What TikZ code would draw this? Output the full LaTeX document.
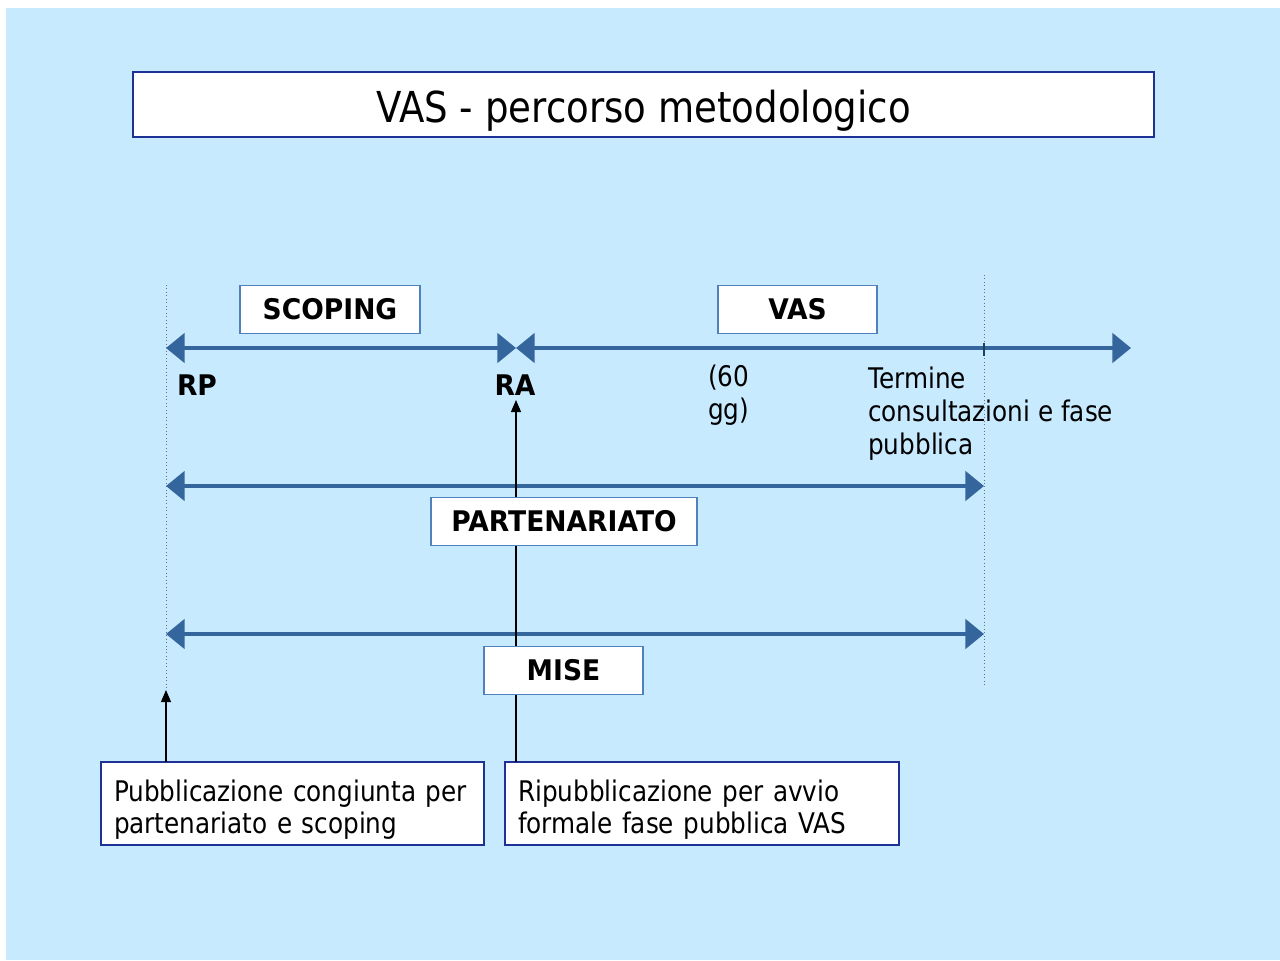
\documentclass[tikz,border=0pt]{standalone}
\usepackage{fontspec}
\setmainfont[FakeStretch=0.87]{DejaVu Sans}
\newfontfamily\lblfont[FakeStretch=0.935]{DejaVu Sans}
\usetikzlibrary{arrows.meta}
\definecolor{bgblue}{RGB}{200,234,255}
\definecolor{arrowblue}{RGB}{52,101,156}
\definecolor{lblborder}{RGB}{79,129,189}
\definecolor{navy}{RGB}{30,50,150}
\definecolor{dotgray}{RGB}{110,110,130}
\tikzset{
  bigarrow/.style={draw=arrowblue, line width=3pt, {Triangle[length=14pt,width=22pt]}-{Triangle[length=14pt,width=22pt]}},
  lblbox/.style={draw=lblborder, line width=0.9pt, fill=white, inner sep=0pt, minimum height=36pt, font=\fontsize{21.3}{24}\lblfont\bfseries},
  navybox/.style={draw=navy, line width=1.1pt, fill=white, inner sep=0pt},
  txtbox/.style={navybox, align=left, inner xsep=9.75pt, inner ysep=0pt, minimum height=62.25pt, font=\fontsize{21.3}{24}\selectfont},
  plain/.style={inner sep=0pt, align=left, font=\fontsize{21.3}{24.75}\selectfont},
  boldlbl/.style={inner sep=0pt, font=\fontsize{21.3}{24}\lblfont\bfseries},
  guide/.style={draw=dotgray, line width=0.6pt, dotted},
  thinarrow/.style={draw=black, line width=0.8pt, -{Triangle[length=9pt,width=7.5pt]}}
}
\begin{document}
\begin{tikzpicture}[x=0.75pt,y=-0.75pt]
\useasboundingbox (0,0) rectangle (1280,960);
\fill[bgblue] (6,8) rectangle (1280,960);
% title
\node[navybox, minimum width=765.75pt, minimum height=48.75pt, font=\fontsize{32}{36}\selectfont] (title) at (643.5,104.5) {\raisebox{-13.5pt}[0pt][0pt]{VAS - percorso metodologico}};
% guides
\coordinate (gl1) at (166,285);
\coordinate (gl2) at (166,690);
\coordinate (gr1) at (984,275);
\coordinate (gr2) at (984,686);
\draw[guide] (gl1) -- (gl2);
\draw[guide] (gr1) -- (gr2);
% timeline arrows
\coordinate (rp) at (166,348);
\coordinate (ra) at (516,348);
\coordinate (vend) at (1131,348);
\draw[bigarrow] (rp) -- (ra);
\draw[bigarrow] (ra) -- (vend);
\draw[draw=arrowblue!60!black, line width=1pt] (984,343) -- (984,356);
\coordinate (p1) at (166,486);
\coordinate (p2) at (984,486);
\draw[bigarrow] (p1) -- (p2);
\coordinate (m1) at (166,634);
\coordinate (m2) at (984,634);
\draw[bigarrow] (m1) -- (m2);
% labels
\node[boldlbl] (rplbl) at (197,385) {RP};
\node[boldlbl] (ralbl) at (515,385) {RA};
\node[plain, anchor=base west] (gg) at (708,419) {(60\\gg)};
\node[plain, anchor=base west] (term) at (868,454) {Termine\\consultazioni e fase\\pubblica};
% bottom boxes
\node[txtbox, minimum width=287.25pt, text width=267.75pt] (box1) at (292.5,803.5) {\rule{0pt}{25pt}Pubblicazione congiunta per\\partenariato e scoping};
\node[txtbox, minimum width=295.5pt, text width=276pt] (box2) at (702,803.5) {\rule{0pt}{25pt}Ripubblicazione per avvio\\formale fase pubblica VAS};
% connectors
\coordinate (b2a) at (516,762);
\coordinate (rab) at (516,400);
\draw[thinarrow] (b2a) -- (rab);
\coordinate (b1a) at (166,762);
\draw[thinarrow] (b1a) -- (gl2);
% label boxes
\node[lblbox, minimum width=135pt] (scoping) at (330,309.5) {SCOPING};
\node[lblbox, minimum width=119.25pt] (vas) at (797.5,309.5) {VAS};
\node[lblbox, minimum width=199.5pt] (part) at (564,521.5) {PARTENARIATO};
\node[lblbox, minimum width=119.25pt] (mise) at (563.5,670.5) {MISE};
\end{tikzpicture}
\end{document}
